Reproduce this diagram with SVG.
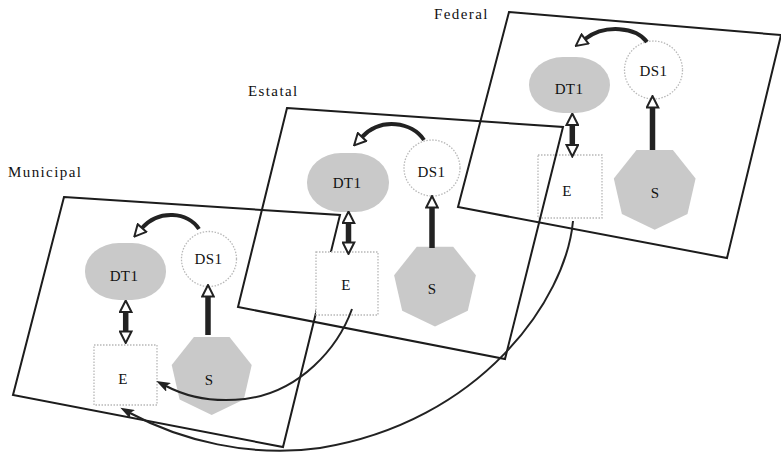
<svg xmlns="http://www.w3.org/2000/svg" width="781" height="452" viewBox="0 0 781 452">
<style>
.panel{fill:none;stroke:#1c1c1c;stroke-width:2}
.gray{fill:#c9c9c9}
.out{fill:#fff;stroke:#b8b8b8;stroke-width:1.3;stroke-dasharray:1.5 1.5}
.lbl{font-family:"Liberation Serif",serif;font-size:15px;fill:#111;letter-spacing:1.4px}
.nt{font-family:"Liberation Serif",serif;font-size:15px;fill:#111;text-anchor:middle;letter-spacing:0.4px}
.thick{fill:none;stroke:#222;stroke-width:5.5}
.curve{fill:none;stroke:#222;stroke-width:4}
.thin{fill:none;stroke:#222;stroke-width:2}
</style>
<defs>
<marker id="hol" viewBox="0 0 14 14" refX="1.5" refY="7" markerWidth="14" markerHeight="14" markerUnits="userSpaceOnUse" orient="auto-start-reverse">
<path d="M1.5,1.2 L13,7 L1.5,12.8 Z" fill="#fff" stroke="#222" stroke-width="2"/>
</marker>
<marker id="fil" viewBox="0 0 14 10" refX="3" refY="5" markerWidth="14" markerHeight="10" markerUnits="userSpaceOnUse" orient="auto">
<path d="M0,0 L14,5 L0,10 L3,5 Z" fill="#222"/>
</marker>
</defs>

<g id="panel-municipal"><polygon class="panel" points="64,197 340,215 283,447 13,395"/></g>

<g id="m-dt1"><rect class="gray" x="85" y="243" width="81" height="57" rx="34" ry="28"/><text class="nt" x="124" y="281">DT1</text></g>
<g id="m-ds1"><circle class="out" cx="209" cy="259" r="27.5"/><text class="nt" x="208.5" y="263.5">DS1</text></g>
<g id="m-e"><rect class="out" x="94" y="345" width="63" height="60"/><text class="nt" x="123" y="384">E</text></g>
<g id="m-s"><polygon class="gray" points="211.7,415 179.6,399.6 171.7,364.9 193.9,337.1 229.5,337.1 251.7,364.9 243.8,399.6"/><text class="nt" x="209" y="385">S</text></g>

<g id="e-dt1"><rect class="gray" x="307" y="153" width="82" height="59" rx="34" ry="29"/><text class="nt" x="347" y="188">DT1</text></g>
<g id="e-ds1"><circle class="out" cx="432" cy="168" r="28"/><text class="nt" x="431.5" y="176.5">DS1</text></g>
<g id="e-e"><rect class="out" x="316" y="252" width="62" height="63"/><text class="nt" x="346" y="290">E</text></g>
<g id="e-s"><polygon class="gray" points="435,326.5 402.2,310.7 394.1,275.2 416.8,246.7 453.2,246.7 475.9,275.2 467.8,310.7"/><text class="nt" x="432" y="294">S</text></g>

<g id="f-dt1"><rect class="gray" x="529" y="57" width="81" height="56" rx="34" ry="28"/><text class="nt" x="569" y="94">DT1</text></g>
<g id="f-ds1"><circle class="out" cx="653.5" cy="70" r="29"/><text class="nt" x="653.5" y="75.5">DS1</text></g>
<g id="f-e"><rect class="out" x="538" y="155" width="64" height="63"/><text class="nt" x="567" y="196">E</text></g>
<g id="f-s"><polygon class="gray" points="654.7,229.8 621.9,214 613.8,178.5 636.5,150 672.9,150 695.6,178.5 687.5,214"/><text class="nt" x="655" y="198">S</text></g>

<g id="panel-estatal"><polygon class="panel" points="287,108 563,127 505,359 238,307"/></g>
<g id="panel-federal"><polygon class="panel" points="509,12 781,35 727,258 458,207"/></g>

<g id="connectors">
<path class="curve" d="M199,229 C188,212 159,209 142,228" marker-end="url(#hol)"/>
<path class="thick" d="M208,335 L208,296.5" marker-end="url(#hol)"/>
<path class="thick" d="M125.7,312 L125.7,331.5" marker-start="url(#hol)" marker-end="url(#hol)"/>

<path class="curve" d="M424,140 C412,122 381,117 362,137" marker-end="url(#hol)"/>
<path class="thick" d="M432,248 L432,207.5" marker-end="url(#hol)"/>
<path class="thick" d="M348.5,223 L348.5,242.5" marker-start="url(#hol)" marker-end="url(#hol)"/>

<path class="curve" d="M647,42 C636,27 605,24 585,39" marker-end="url(#hol)"/>
<path class="thick" d="M652.5,150 L652.5,107.5" marker-end="url(#hol)"/>
<path class="thick" d="M572.3,125 L572.3,145" marker-start="url(#hol)" marker-end="url(#hol)"/>

<path class="thin" d="M352,309 C338,348 300,392 245,399 C210,403 185,396 166,386" marker-end="url(#fil)"/>
<path class="thin" d="M573,221 C566,300 480,422 320,448 C250,458 180,440 130,413" marker-end="url(#fil)"/>
</g>

<g id="labels">
<text class="lbl" x="8" y="177">Municipal</text>
<text class="lbl" x="248" y="96">Estatal</text>
<text class="lbl" x="434" y="18.5">Federal</text>
</g>
</svg>
